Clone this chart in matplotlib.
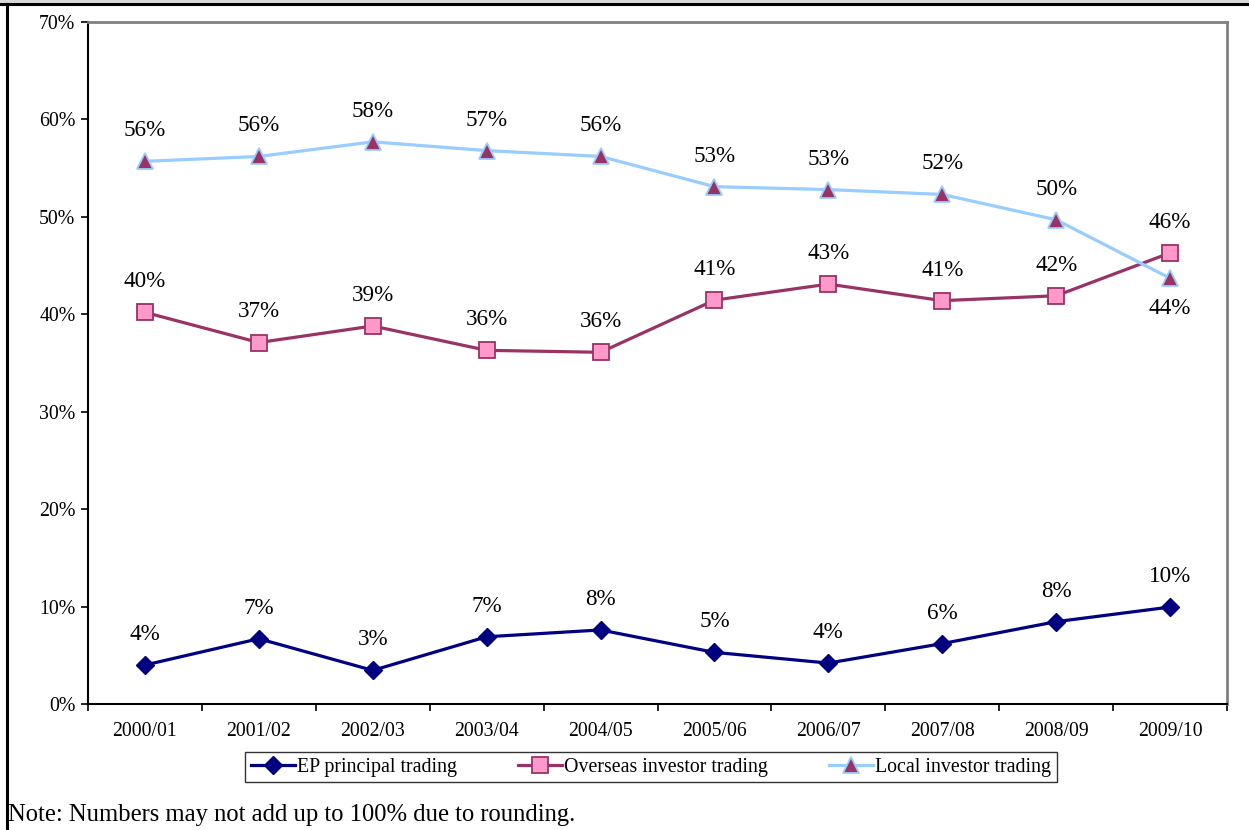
import matplotlib
matplotlib.use("Agg")
import matplotlib.pyplot as plt
from matplotlib.lines import Line2D
from matplotlib.patches import Rectangle
import numpy as np

plt.rcParams['font.family'] = ['Liberation Serif', 'DejaVu Serif']

annees = ["2000/01", "2001/02", "2002/03", "2003/04", "2004/05",
          "2005/06", "2006/07", "2007/08", "2008/09", "2009/10"]
ep_principal = [4.0, 6.7, 3.45, 6.9, 7.6, 5.3, 4.2, 6.2, 8.45, 9.95]
overseas = [40.2, 37.1, 38.8, 36.3, 36.1, 41.45, 43.1, 41.4, 41.9, 46.3]
local = [55.7, 56.2, 57.7, 56.8, 56.2, 53.1, 52.8, 52.3, 49.7, 43.7]

fig = plt.figure(figsize=(12.49, 8.30), dpi=100)
ax = fig.add_axes([88/1249, 1-704/830, (1227-88)/1249, (704-22)/830])

x = np.arange(len(annees))

ax.plot(x, ep_principal, '-D', color='#000080', lw=2.3, ms=9,
        mfc='#000080', mec='#000080', label="EP principal trading")
ax.plot(x, overseas, '-s', color='#993366', lw=2.3, ms=11,
        mfc='#FF99CC', mec='#993366', mew=1.3, label="Overseas investor trading")
ax.plot(x, local, '-^', color='#99CCFF', lw=2.3, ms=11,
        mfc='#993366', mec='#99CCFF', mew=1.3, label="Local investor trading")

# etiquettes au dessus des points (sauf le dernier local, en dessous)
for serie in (ep_principal, overseas, local):
    for i, v in enumerate(serie):
        dy = 22
        if serie is local and i == len(serie) - 1:
            dy = -22
        ax.annotate("%.0f%%" % v, (i, v), xytext=(0, dy), textcoords='offset points',
                    ha='center', va='center', fontsize=16.7)

ax.set_xlim(-0.5, 9.5)
ax.set_ylim(0, 70)
ax.set_yticks(range(0, 71, 10))
ax.set_yticklabels(["%d%%" % t for t in range(0, 71, 10)], fontsize=14.3)
ax.set_xticks(np.arange(-0.5, 10, 1))
ax.set_xticklabels([])
ax.set_xticks(x, minor=True)
ax.set_xticklabels(annees, minor=True, fontsize=14.2)
ax.tick_params(axis='x', which='minor', length=0, pad=13)
ax.tick_params(axis='x', which='major', direction='out', length=5, width=1.2)
ax.tick_params(axis='y', direction='out', length=5, width=1.2, pad=4)

ax.spines['left'].set_linewidth(1.5)
ax.spines['bottom'].set_linewidth(1.5)
for s in ('top', 'right'):
    ax.spines[s].set_color('#808080')
    ax.spines[s].set_linewidth(2)

leg = ax.legend(loc='center', bbox_to_anchor=(651/1249, 1-767/830),
                bbox_transform=fig.transFigure, ncol=3, fontsize=14.3,
                frameon=True, fancybox=False, edgecolor='black',
                handlelength=2.2, handletextpad=0.1, columnspacing=3.1,
                borderpad=0.3, borderaxespad=0)
leg.get_frame().set_linewidth(1.0)

fig.text(8/1249, 1-815/830, "Note: Numbers may not add up to 100% due to rounding.",
         fontsize=17.7, va='center', ha='left')

# cadre autour du graphique
fig.add_artist(Rectangle((0, 1-3/830), 1, 3/830, transform=fig.transFigure,
                         color='#d9d9d9', lw=0))
fig.add_artist(Line2D([0, 1], [1-4.5/830, 1-4.5/830], transform=fig.transFigure,
                      color='black', lw=2.2))
fig.add_artist(Line2D([7/1249, 7/1249], [0, 1-4.5/830], transform=fig.transFigure,
                      color='black', lw=2.2))

fig.savefig("out.png", dpi=100)
